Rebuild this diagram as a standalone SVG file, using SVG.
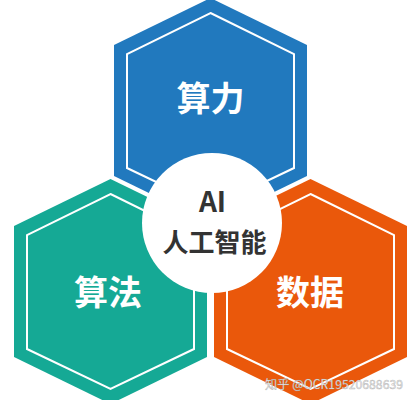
<svg xmlns="http://www.w3.org/2000/svg" width="413" height="400" viewBox="0 0 413 400">
  <defs>
    <style>
      .inner { fill: none; stroke: #ffffff; stroke-width: 2; }
      .lbl { font-family: "Noto Sans CJK SC", "Noto Sans", sans-serif; font-weight: 700; font-size: 34px; fill: #ffffff; text-anchor: middle; }
      .ai { font-family: "Noto Sans CJK SC", "Noto Sans", sans-serif; font-weight: 700; fill: #333333; text-anchor: middle; }
      .wm { font-family: "Noto Sans CJK SC", "Noto Sans", sans-serif; font-size: 12.5px; fill: #f4f4f4; stroke: #8a8a8a; stroke-width: 0.5; stroke-opacity: 0.6; }
    </style>
    <polygon id="hexOuter" points="0,0 96.5,47 96.5,178 0,225 -96.5,178 -96.5,47"/>
  </defs>
  <rect width="413" height="400" fill="#ffffff"/>

  <g id="node-compute">
    <use href="#hexOuter" x="210.5" y="-2" fill="#2179BE"/>
    <polygon class="inner" points="210.5,13 294,54 294,168 210.5,208 127,168 127,54"/>
    <text class="lbl" x="210.5" y="111">算力</text>
  </g>

  <g id="node-algorithm">
    <use href="#hexOuter" x="110.5" y="179" fill="#15A995"/>
    <polygon class="inner" points="110.5,194 194,235 194,349 110.5,389 27,349 27,235"/>
    <text class="lbl" x="108" y="305">算法</text>
  </g>

  <g id="node-data">
    <use href="#hexOuter" x="310.5" y="179" fill="#EA580B"/>
    <polygon class="inner" points="310.5,194 394,235 394,349 310.5,389 227,349 227,235"/>
    <text class="lbl" x="310" y="305">数据</text>
  </g>

  <g id="connectors"></g>

  <g id="node-ai">
    <circle cx="212" cy="223" r="70" fill="#ffffff"/>
    <text class="ai" x="212.5" y="212" font-size="28">AI</text>
    <text class="ai" x="214.5" y="252" font-size="26">人工智能</text>
  </g>

  <text class="wm" x="265" y="389" textLength="138" lengthAdjust="spacingAndGlyphs">知乎 @OCR19520688639</text>
</svg>
